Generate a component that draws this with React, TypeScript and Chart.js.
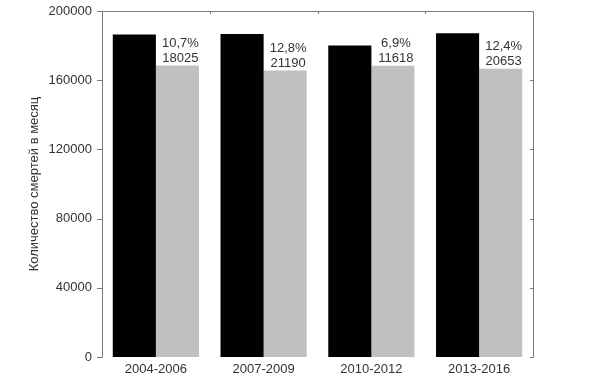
import React, { useEffect, useRef } from "react";
import { Chart, registerables } from "chart.js";

Chart.register(...registerables);

const categories = ["2004-2006", "2007-2009", "2010-2012", "2013-2016"];
const blackValues = [186483, 186737, 179995, 187209];
const grayValues = [168458, 165547, 168377, 166556];
const percentLabels = ["10,7%", "12,8%", "6,9%", "12,4%"];
const diffLabels = ["18025", "21190", "11618", "20653"];
const yTicks = [0, 40000, 80000, 120000, 160000, 200000];
const yTitle = "Количество смертей в месяц";

const FONT = "'Liberation Sans', Arial, sans-serif";
const TEXT = "#333333";
const FRAME = "#7a7a7a";

const framePlugin = {
  id: "frame",
  afterDatasetsDraw(chart: any) {
    const { ctx, chartArea } = chart;
    const { left, right, top, bottom } = chartArea;
    const x = chart.scales.x;
    const y = chart.scales.y;
    ctx.save();
    ctx.strokeStyle = FRAME;
    ctx.lineWidth = 1;
    ctx.beginPath();
    ctx.moveTo(left + 0.5, top + 0.5);
    ctx.lineTo(right + 0.5, top + 0.5);
    ctx.lineTo(right + 0.5, bottom + 0.5);
    ctx.moveTo(left + 0.5, bottom + 0.5);
    ctx.lineTo(left + 0.5, top + 0.5);
    yTicks.forEach((v) => {
      const py = Math.round(y.getPixelForValue(v)) + 0.5;
      ctx.moveTo(right - 3, py);
      ctx.lineTo(right + 0.5, py);
      ctx.moveTo(left - 5, py);
      ctx.lineTo(left + 0.5, py);
    });
    for (let i = 1; i < categories.length; i++) {
      const px = Math.round((x.getPixelForValue(i - 1) + x.getPixelForValue(i)) / 2) + 0.5;
      ctx.moveTo(px, top);
      ctx.lineTo(px, top + 3);
    }
    ctx.stroke();
    const meta = chart.getDatasetMeta(1);
    ctx.fillStyle = TEXT;
    ctx.font = `13px ${FONT}`;
    ctx.textAlign = "center";
    ctx.textBaseline = "alphabetic";
    meta.data.forEach((bar: any, i: number) => {
      const cx = bar.x + 3;
      ctx.fillText(diffLabels[i], cx, bar.y - 4);
      ctx.fillText(percentLabels[i], cx, bar.y - 19);
    });
    ctx.restore();
  },
};

export default function App() {
  const ref = useRef<HTMLCanvasElement>(null);
  useEffect(() => {
    document.body.style.margin = "0";
    const chart = new Chart(ref.current as HTMLCanvasElement, {
      type: "bar",
      data: {
        labels: categories,
        datasets: [
          {
            data: blackValues,
            backgroundColor: "#000000",
            categoryPercentage: 0.8,
            barPercentage: 1.0,
          },
          {
            data: grayValues,
            backgroundColor: "#c0c0c0",
            categoryPercentage: 0.8,
            barPercentage: 1.0,
          },
        ],
      },
      options: {
        animation: false,
        responsive: false,
        maintainAspectRatio: false,
        layout: { padding: { top: 11, right: 67, left: 0, bottom: 0 } },
        plugins: {
          legend: { display: false },
          tooltip: { enabled: false },
        },
        scales: {
          x: {
            grid: { display: false, drawTicks: false },
            border: { display: false },
            ticks: {
              color: TEXT,
              font: { family: FONT, size: 13 },
              padding: 5,
              maxRotation: 0,
            },
            afterFit: (s: any) => {
              s.height = 24;
              s.paddingLeft = 0;
              s.paddingRight = 0;
            },
          },
          y: {
            min: 0,
            max: 200000,
            grid: { display: false, drawTicks: false },
            border: { display: false },
            afterBuildTicks: (s: any) => {
              s.ticks = yTicks.map((v) => ({ value: v }));
            },
            ticks: {
              color: TEXT,
              font: { family: FONT, size: 13 },
              padding: 10,
              callback: (v: any) => String(v),
            },
            title: {
              display: true,
              text: yTitle,
              color: TEXT,
              font: { family: FONT, size: 13 },
              padding: { top: 27, bottom: 0 },
            },
            afterFit: (s: any) => {
              s.width = 102;
              s.paddingTop = 0;
              s.paddingBottom = 0;
            },
          },
        },
      },
      plugins: [framePlugin],
    });
    return () => chart.destroy();
  }, []);
  return (
    <div style={{ position: "absolute", left: 0, top: 0, width: 600, height: 381, background: "#fff" }}>
      <canvas ref={ref} width={600} height={381} style={{ width: 600, height: 381 }} />
    </div>
  );
}
